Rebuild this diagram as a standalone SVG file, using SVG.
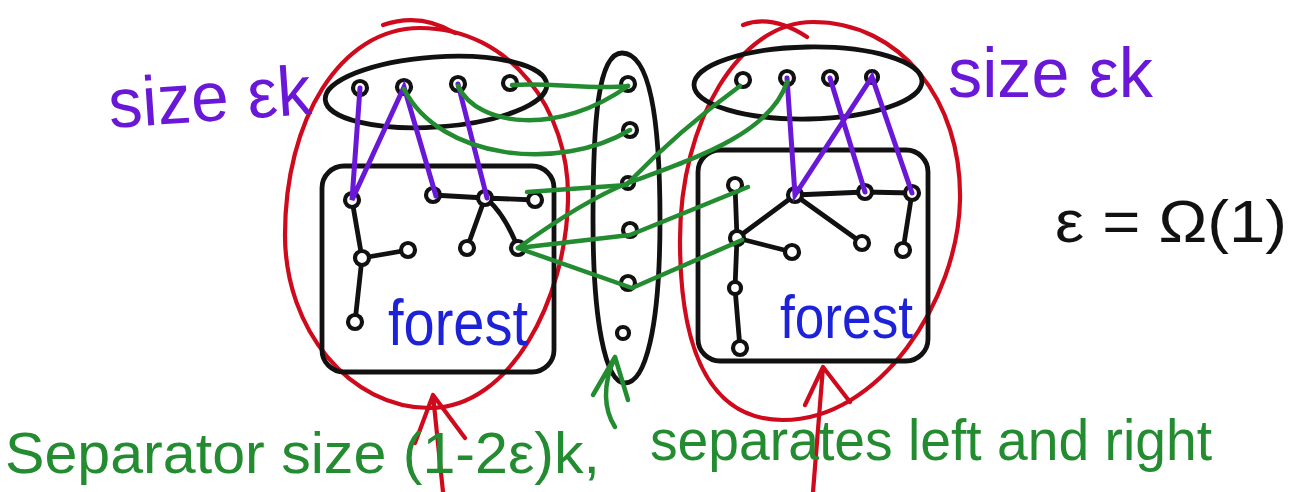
<svg xmlns="http://www.w3.org/2000/svg" width="1297" height="492" viewBox="0 0 1297 492">
<style>
.bk{fill:none;stroke:#111;stroke-width:4.8;stroke-linecap:round;stroke-linejoin:round}
.nd{fill:#fff;stroke:#111;stroke-width:4.2}
.pu{fill:none;stroke:#6a18d8;stroke-width:5;stroke-linecap:round}
.gr{fill:none;stroke:#238b30;stroke-width:4.5;stroke-linecap:round;stroke-linejoin:round}
.rd{fill:none;stroke:#cf0a1c;stroke-width:4.2;stroke-linecap:round;stroke-linejoin:round}
.t{font-family:"Liberation Sans","DejaVu Sans",sans-serif}
.tp{fill:#6a18d8}
.tb{fill:#1d22d8}
.tg{fill:#238b30}
</style>
<rect width="1297" height="492" fill="#fff"/>

<g id="left-part">
  <path class="rd" d="M420,28 C510,28 570,110 568,200 C566,300 510,408 430,408 C350,408 285,330 285,235 C285,120 340,28 420,28 Z"/>
  <path class="rd" d="M383,25 Q420,12 455,33"/>
  <ellipse class="bk" cx="436" cy="92" rx="111" ry="35" transform="rotate(-4 436 92)" stroke-width="5.5"/>
  <rect class="bk" x="322" y="166" width="232" height="206" rx="22"/>
  <g id="left-forest-edges">
    <path class="bk" d="M352,200 L362,258 L355,322 M362,258 L408,250 M433,195 L485,198 L535,200 M485,198 L467,248 M488,200 Q505,215 518,248"/>
  </g>
  <g id="left-vertices">
    <circle class="nd" cx="360" cy="88" r="7"/>
    <circle class="nd" cx="404" cy="87" r="7"/>
    <circle class="nd" cx="458" cy="84" r="7"/>
    <circle class="nd" cx="510" cy="83" r="7"/>
    <circle class="nd" cx="352" cy="200" r="7"/>
    <circle class="nd" cx="433" cy="195" r="7"/>
    <circle class="nd" cx="485" cy="198" r="7"/>
    <circle class="nd" cx="535" cy="200" r="7"/>
    <circle class="nd" cx="362" cy="258" r="7"/>
    <circle class="nd" cx="408" cy="250" r="7"/>
    <circle class="nd" cx="467" cy="248" r="7"/>
    <circle class="nd" cx="518" cy="248" r="7"/>
    <circle class="nd" cx="355" cy="322" r="7"/>
  </g>
  <text class="t tb" x="388" y="345" font-size="64" textLength="140" lengthAdjust="spacingAndGlyphs">forest</text>
</g>

<g id="separator">
  <path class="bk" d="M622,53 C650,53 660,120 660,220 C660,330 645,383 625,383 C605,383 593,320 593,220 C593,120 598,53 622,53 Z"/>
  <circle class="nd" cx="628" cy="84" r="7"/>
  <circle class="nd" cx="630" cy="130" r="7"/>
  <circle class="nd" cx="628" cy="183" r="6"/>
  <circle class="nd" cx="630" cy="230" r="7"/>
  <circle class="nd" cx="628" cy="283" r="7"/>
  <circle class="nd" cx="623" cy="333" r="6"/>
</g>

<g id="right-part">
  <path class="rd" d="M813,22 C900,22 962,100 960,200 C958,300 880,420 783,420 C715,420 680,360 680,240 C680,120 740,22 813,22 Z"/>
  <path class="rd" d="M743,25 Q772,14 807,37"/>
  <ellipse class="bk" cx="808" cy="83" rx="114" ry="36" transform="rotate(-1 808 83)" stroke-width="5.5"/>
  <rect class="bk" x="698" y="150" width="230" height="211" rx="22"/>
  <g id="right-forest-edges">
    <path class="bk" d="M735,185 L737,238 L735,288 L740,348 M737,238 L795,195 L865,192 L912,193 M737,238 L792,252 M795,195 L862,243 M912,193 L903,250"/>
  </g>
  <g id="right-vertices">
    <circle class="nd" cx="743" cy="80" r="7"/>
    <circle class="nd" cx="787" cy="78" r="7"/>
    <circle class="nd" cx="830" cy="78" r="7"/>
    <circle class="nd" cx="872" cy="77" r="6"/>
    <circle class="nd" cx="735" cy="185" r="7"/>
    <circle class="nd" cx="795" cy="195" r="7"/>
    <circle class="nd" cx="865" cy="192" r="7"/>
    <circle class="nd" cx="912" cy="193" r="7"/>
    <circle class="nd" cx="737" cy="238" r="7"/>
    <circle class="nd" cx="792" cy="252" r="7"/>
    <circle class="nd" cx="862" cy="243" r="7"/>
    <circle class="nd" cx="903" cy="250" r="7"/>
    <circle class="nd" cx="735" cy="288" r="6"/>
    <circle class="nd" cx="740" cy="348" r="7"/>
  </g>
  <text class="t tb" x="780" y="338" font-size="62" textLength="133" lengthAdjust="spacingAndGlyphs">forest</text>
</g>

<g id="connectors">
  <path class="pu" d="M360,88 L352,200 L404,87 L436,196 M458,84 L487,198"/>
  <path class="pu" d="M787,78 L795,195 L872,77 L912,193 M830,78 L865,192"/>
  <path class="gr" d="M512,85 C550,82 590,90 628,86"/>
  <path class="gr" d="M458,86 C478,128 560,135 628,86"/>
  <path class="gr" d="M404,89 C440,160 560,172 630,130"/>
  <path class="gr" d="M527,192 L627,185"/>
  <path class="gr" d="M740,86 C700,115 660,150 628,183"/>
  <path class="gr" d="M787,82 C770,135 690,160 628,183 C590,198 550,225 518,248"/>
  <path class="gr" d="M518,248 L630,235 L748,187"/>
  <path class="gr" d="M518,248 L632,288 L742,240"/>
</g>

<g id="annotations">
  <path class="gr" d="M615,427 C604,410 602,385 615,357 M593,395 L615,357 Q622,380 628,400"/>
  <path class="rd" d="M443,492 L433,395 M415,443 L433,395 L465,438"/>
  <path class="rd" d="M813,492 L823,367 M805,405 L823,367 L850,402"/>
  <text class="t tp" x="110" y="128" font-size="70" textLength="203" lengthAdjust="spacingAndGlyphs" transform="rotate(-4 110 128)">size εk</text>
  <text class="t tp" x="948" y="97" font-size="70" textLength="205" lengthAdjust="spacingAndGlyphs">size εk</text>
  <text class="t" x="1055" y="242" font-size="60" fill="#111" textLength="232" lengthAdjust="spacingAndGlyphs">ε = Ω(1)</text>
  <text class="t tg" x="5" y="473" font-size="58" textLength="595" lengthAdjust="spacingAndGlyphs">Separator size (1-2ε)k,</text>
  <text class="t tg" x="650" y="460" font-size="58" textLength="562" lengthAdjust="spacingAndGlyphs">separates left and right</text>
</g>
</svg>
